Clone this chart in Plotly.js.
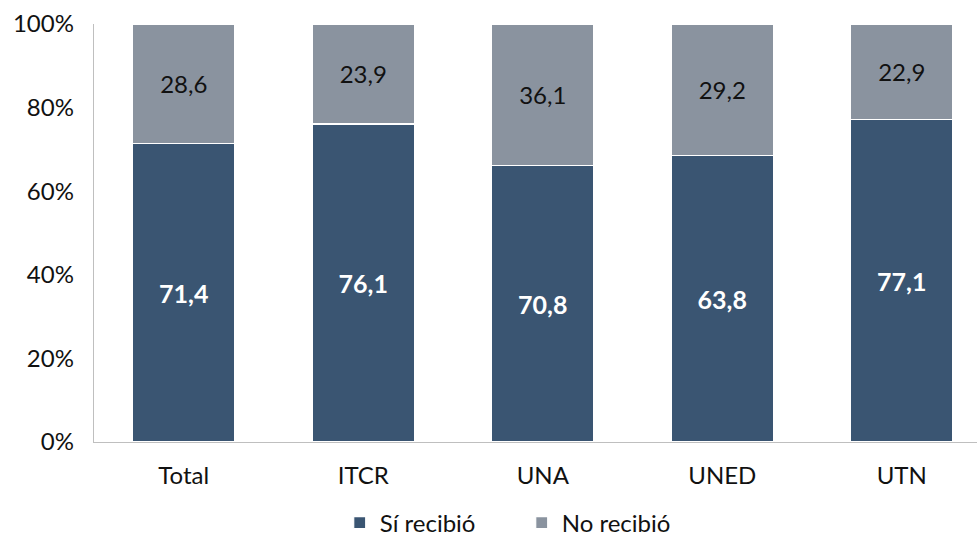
<!DOCTYPE html>
<html>
<head>
<meta charset="utf-8">
<script src="https://cdn.plot.ly/plotly-3.0.1.min.js"></script>
<style>html,body{margin:0;padding:0;background:#fff;}#chart{width:977px;height:537px;}</style>
</head>
<body>
<div id="chart"></div>
<script>
const categories = ["Total", "ITCR", "UNA", "UNED", "UTN"];
const siRecibio = [71.4, 76.1, 70.8, 63.8, 77.1];
const noRecibio = [28.6, 23.9, 36.1, 29.2, 22.9];
const yTicks = [0, 20, 40, 60, 80, 100];

const fmt = v => v.toFixed(1).replace('.', ',');
const FONT = 'Lato, "Open Sans", sans-serif';

const traces = [
  {
    type: 'bar', name: 'Sí recibió', x: categories, y: siRecibio,
    text: siRecibio.map(fmt), textposition: 'inside', insidetextanchor: 'middle',
    textfont: {family: FONT, size: 25, color: '#ffffff', weight: 'bold'},
    marker: {color: '#3a5572', line: {color: '#ffffff', width: 1.2}},
    hoverinfo: 'skip'
  },
  {
    type: 'bar', name: 'No recibió', x: categories, y: noRecibio,
    text: noRecibio.map(fmt), textposition: 'inside', insidetextanchor: 'middle',
    textfont: {family: FONT, size: 24, color: '#111111'},
    marker: {color: '#8a939f', line: {color: '#ffffff', width: 1.2}},
    hoverinfo: 'skip'
  }
];

const layout = {
  width: 977, height: 537,
  margin: {l: 94, r: 0, t: 24, b: 95},
  barmode: 'stack', barnorm: 'percent', bargap: 0.432,
  paper_bgcolor: '#ffffff', plot_bgcolor: '#ffffff',
  font: {family: FONT, size: 24, color: '#111111'},
  showlegend: true,
  legend: {orientation: 'h', xref: 'container', yref: 'container', x: 0.534, xanchor: 'center',
           y: 0.026, yanchor: 'middle', font: {family: FONT, size: 24, color: '#111111'},
           traceorder: 'normal', itemwidth: 30, entrywidth: 137, entrywidthmode: 'pixels'},
  xaxis: {type: 'category', range: [-0.5, 4.419], showgrid: false, zeroline: false,
          showline: true, linecolor: '#bfbfbf', linewidth: 1.3, ticks: '', ticklabelstandoff: 12,
          tickfont: {family: FONT, size: 24, color: '#111111'}},
  yaxis: {range: [0, 100], tickvals: yTicks, ticktext: yTicks.map(v => v + '%'),
          showgrid: false, zeroline: false, showline: true, linecolor: '#bfbfbf', linewidth: 1.3,
          ticks: '', ticklabelstandoff: 14,
          tickfont: {family: FONT, size: 24, color: '#111111'}}
};

Plotly.newPlot('chart', traces, layout, {staticPlot: true, displayModeBar: false});
</script>
</body>
</html>
